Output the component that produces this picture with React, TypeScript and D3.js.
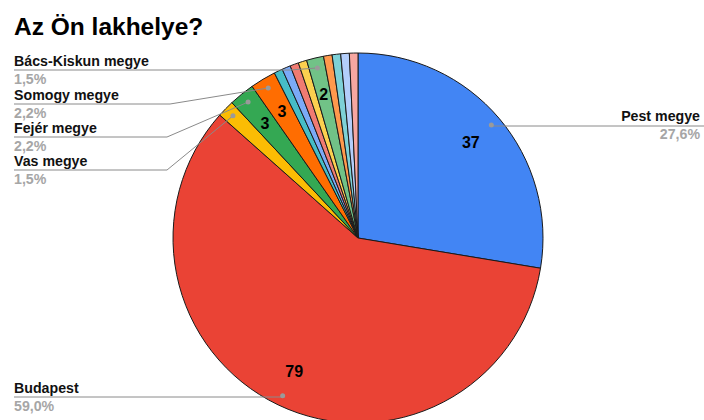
import React from "react";
import * as d3 from "d3";

const categories = [
  "Pest megye",
  "Budapest",
  "Vas megye",
  "Fejér megye",
  "Somogy megye",
  "Győr-Moson-Sopron megye",
  "Komárom-Esztergom megye",
  "Veszprém megye",
  "Zala megye",
  "Bács-Kiskun megye",
  "Csongrád megye",
  "Baranya megye",
  "Heves megye",
  "Nógrád megye",
];
const values = [37, 79, 2, 3, 3, 1, 1, 1, 1, 2, 1, 1, 1, 1];
const colors = [
  "#4285f4", "#ea4335", "#fbbc04", "#34a853", "#ff6d01", "#46bdc6", "#7baaf7",
  "#f07b72", "#fcd04f", "#71c287", "#ff994d", "#7ed1d7", "#b3cefb", "#f7a7a1",
];
const valueLabelled = ["Pest megye", "Budapest", "Fejér megye", "Somogy megye", "Bács-Kiskun megye"];
const percentLabels = ["27,6%", "59,0%", "1,5%", "2,2%", "2,2%", "1,5%"];
const percentLabelled = ["Pest megye", "Budapest", "Vas megye", "Fejér megye", "Somogy megye", "Bács-Kiskun megye"];

// layout of outside labels (positions only)
const labelLayout: Record<string, { side: "left" | "right"; lineY: number; elbowX: number }> = {
  "Bács-Kiskun megye": { side: "left", lineY: 70, elbowX: 290 },
  "Somogy megye": { side: "left", lineY: 104, elbowX: 170 },
  "Fejér megye": { side: "left", lineY: 137, elbowX: 167 },
  "Vas megye": { side: "left", lineY: 170, elbowX: 167 },
  "Budapest": { side: "left", lineY: 397, elbowX: 283 },
  "Pest megye": { side: "right", lineY: 126, elbowX: 492 },
};

export default function App() {
  const W = 704, H = 420;
  const cx = 358, cy = 238, R = 185;
  const data = categories.map((c, i) => ({ c, v: values[i], color: colors[i] }));
  const pie = d3.pie<any>().sort(null).value((d) => d.v);
  const arcs = pie(data);
  const arc = d3.arc<any>().innerRadius(0).outerRadius(R);
  const valArc = d3.arc<any>().innerRadius(R * 0.8).outerRadius(R * 0.8);
  const dotArc = d3.arc<any>().innerRadius(R * 0.945).outerRadius(R * 0.945);
  const font = "'Liberation Sans', Arial, sans-serif";
  const fs = 14.2;

  return (
    <svg width={W} height={H} style={{ position: "absolute", left: 0, top: 0, background: "#fff" }}>
      <text x={14} y={35} fontFamily={font} fontWeight="bold" fontSize={24.5} fill="#000">
        Az Ön lakhelye?
      </text>
      <g transform={`translate(${cx},${cy})`}>
        {arcs.map((a, i) => (
          <path key={i} d={arc(a) || ""} fill={a.data.color} stroke="#1a1a1a" strokeWidth={1} strokeLinejoin="round" />
        ))}
        {arcs.map((a, i) => {
          if (!valueLabelled.includes(a.data.c)) return null;
          const [x, y] = valArc.centroid(a);
          return (
            <text key={"v" + i} x={x} y={y} dy="0.35em" textAnchor="middle" fontFamily={font} fontWeight="bold" fontSize={16} fill="#000">
              {a.data.v}
            </text>
          );
        })}
      </g>
      {arcs.map((a, i) => {
        const idx = percentLabelled.indexOf(a.data.c);
        if (idx < 0) return null;
        const lay = labelLayout[a.data.c];
        const [dx, dy] = dotArc.centroid(a);
        const px = cx + dx, py = cy + dy;
        const pct = percentLabels[idx];
        if (lay.side === "left") {
          return (
            <g key={"l" + i}>
              <polyline points={`14,${lay.lineY} ${lay.elbowX},${lay.lineY} ${px},${py}`} fill="none" stroke="#8a8a8a" strokeWidth={1} />
              <circle cx={px} cy={py} r={2.5} fill="#9a9a9a" />
              <text x={14} y={lay.lineY - 4} fontFamily={font} fontWeight="bold" fontSize={fs} fill="#111">{a.data.c}</text>
              <text x={14} y={lay.lineY + 14} fontFamily={font} fontWeight="bold" fontSize={fs} fill="#a6a6a6">{pct}</text>
            </g>
          );
        }
        return (
          <g key={"l" + i}>
            <polyline points={`${px},${py} ${lay.elbowX},${lay.lineY} ${W},${lay.lineY}`} fill="none" stroke="#8a8a8a" strokeWidth={1} />
            <circle cx={px} cy={py} r={2.5} fill="#9a9a9a" />
            <text x={700} y={lay.lineY - 5} textAnchor="end" fontFamily={font} fontWeight="bold" fontSize={fs} fill="#111">{a.data.c}</text>
            <text x={700} y={lay.lineY + 13} textAnchor="end" fontFamily={font} fontWeight="bold" fontSize={fs} fill="#a6a6a6">{pct}</text>
          </g>
        );
      })}
    </svg>
  );
}
